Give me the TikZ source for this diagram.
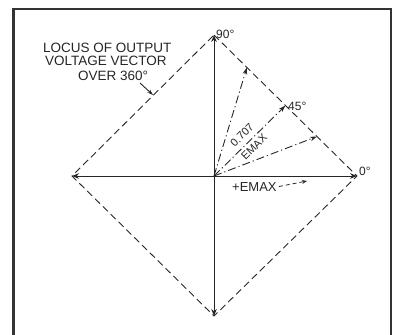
\documentclass[tikz,border=0pt]{standalone}
\usepackage{fontspec}
\setmainfont{Liberation Sans}
\usetikzlibrary{arrows.meta,calc}
\begin{document}
\begin{tikzpicture}[x=1pt,y=-1pt,
  ink/.style={draw=black!85},
  axis/.style={ink, line width=0.9pt, -{Stealth[length=7pt,width=5.5pt]}},
  locus/.style={ink, line width=0.9pt, dash pattern=on 7pt off 4pt},
  vec/.style={ink, line width=0.9pt, dash pattern=on 8pt off 3pt on 1.2pt off 3pt, -{Stealth[length=7pt,width=4.5pt]}},
  pointer/.style={ink, line width=0.9pt, -{Stealth[length=6pt,width=4pt]}},
  dimarrow/.style={ink, line width=0.8pt, dash pattern=on 4pt off 3pt, -{Stealth[length=5pt,width=4pt,open]}},
  lbl/.style={inner sep=0pt, text=black!85, font=\fontsize{12}{12}\selectfont},
  big/.style={inner sep=0pt, text=black!85, font=\fontsize{13.5}{13.5}\selectfont},
  frame/.style={draw=black!80, line width=2.4pt}]
\useasboundingbox (0,0) rectangle (394,335);
% frame
\draw[frame] (13.5,335) -- (13.5,9) -- (391,9) -- (391,335);
% points
\coordinate (O) at (214,176);
\coordinate (T) at (214,35);
\coordinate (R) at (357,176);
\coordinate (B) at (214,316);
\coordinate (L) at (72,176);
\coordinate (P1) at ($(T)!0.23!(R)$);
\coordinate (P45) at ($(T)!0.5!(R)$);
\coordinate (P2) at ($(T)!0.72!(R)$);
% locus diamond
\draw[locus] (T) -- (R) -- (B) -- (L) -- cycle;
% axes
\draw[axis] (O) -- (T);
\draw[axis] (O) -- (R);
\draw[axis] (O) -- (B);
\draw[axis] (O) -- (L);
% vectors
\draw[vec] (O) -- (P1);
\draw[vec] (O) -- (P45);
\draw[vec] (O) -- (P2);
% labels
\node[lbl, anchor=base west] (t90) at (216,38) {90°};
\node[lbl, anchor=base west] (t45) at (288,110) {45°};
\node[lbl, anchor=base west] (t0) at (359,175) {0°};
\node[inner sep=0pt, text=black!85, font=\fontsize{11}{17}\selectfont, rotate=45, align=center] (frac) at (248,141) {0.707\\EMAX};
\node[big, font=\fontsize{13}{13}\selectfont, anchor=base west] (emax) at (232,191) {+EMAX};
\coordinate (ea) at (307,181);
\draw[dimarrow] ([xshift=2pt]emax.east) -- (ea);
% locus caption
\node[big, anchor=base west] (l1) at (43,52) {LOCUS OF OUTPUT};
\node[big, anchor=base west] (l2) at (45,65) {VOLTAGE VECTOR};
\node[big, anchor=base west] (l3) at (78,80) {OVER 360°};
\coordinate (ls) at (140,83);
\coordinate (le) at (153,95);
\draw[pointer] (ls) -- (le);
\end{tikzpicture}
\end{document}
